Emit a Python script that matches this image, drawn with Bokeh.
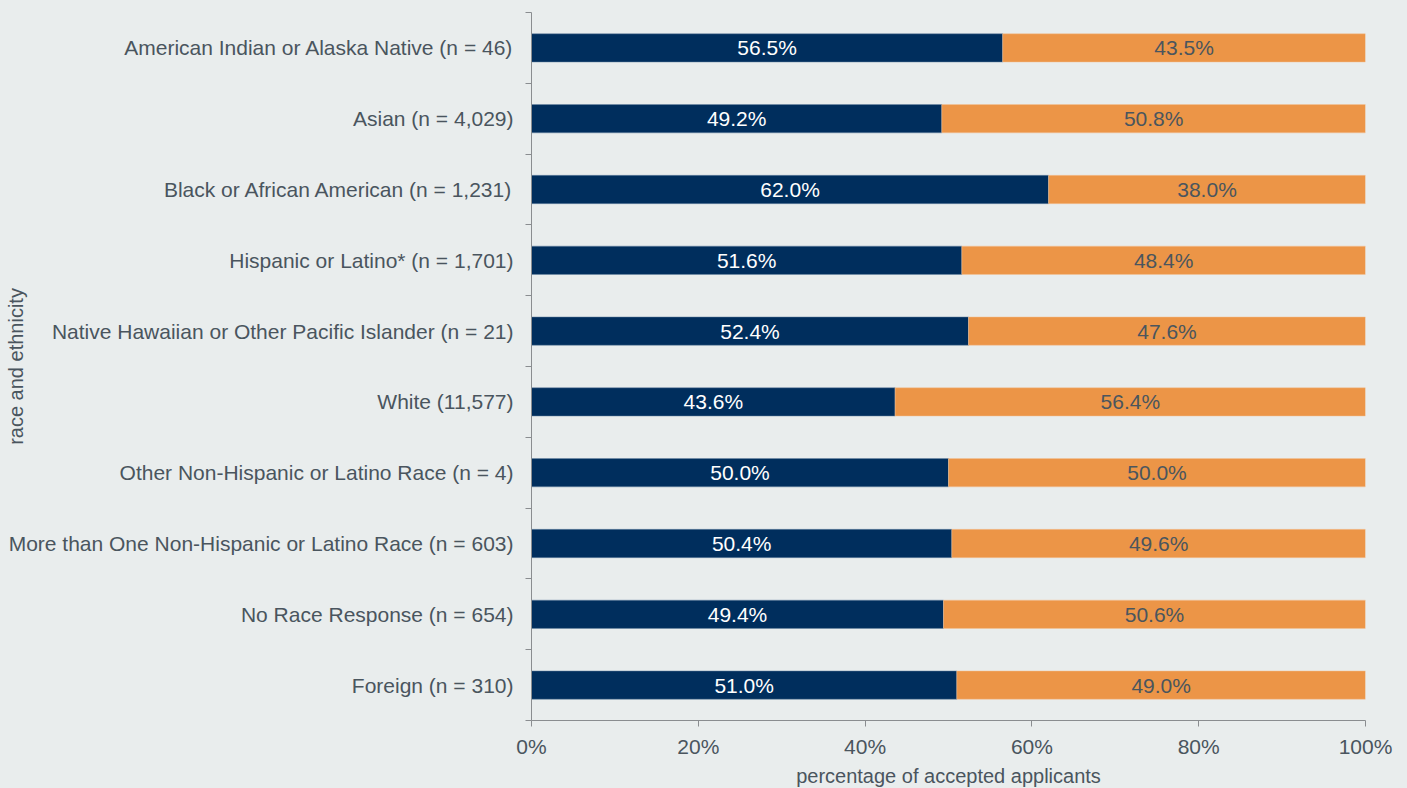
from bokeh.plotting import figure
from bokeh.models import Range1d, FixedTicker, ColumnDataSource, LabelSet
from bokeh.embed import file_html
from bokeh.resources import INLINE
from bokeh.core.properties import value

categories = [
    "American Indian or Alaska Native (n = 46)",
    "Asian (n = 4,029)",
    "Black or African American (n = 1,231)",
    "Hispanic or Latino* (n = 1,701)",
    "Native Hawaiian or Other Pacific Islander (n = 21)",
    "White (11,577)",
    "Other Non-Hispanic or Latino Race (n = 4)",
    "More than One Non-Hispanic or Latino Race (n = 603)",
    "No Race Response (n = 654)",
    "Foreign (n = 310)",
]
series_a = [56.5, 49.2, 62.0, 51.6, 52.4, 43.6, 50.0, 50.4, 49.4, 51.0]
series_b = [43.5, 50.8, 38.0, 48.4, 47.6, 56.4, 50.0, 49.6, 50.6, 49.0]
x_ticks = [0, 20, 40, 60, 80, 100]
x_tick_labels = ["0%", "20%", "40%", "60%", "80%", "100%"]

BG = "#e9eded"
NAVY = "#002e5d"
ORANGE = "#ec9547"
TXT = "#4a555e"
AX = "#8a8d90"
FONT = "Liberation Sans"
FS = "21px"

n = len(categories)
ys = [n - i - 0.5 for i in range(n)]
b_end = [a + b for a, b in zip(series_a, series_b)]

src = ColumnDataSource(dict(
    y=ys, a_end=series_a, b_end=b_end,
    a_mid=[v / 2 for v in series_a],
    b_mid=[a + b / 2 for a, b in zip(series_a, series_b)],
    a_lab=[f"{v:.1f}%" for v in series_a],
    b_lab=[f"{v:.1f}%" for v in series_b],
    zero=[0] * n,
))

p = figure(width=1407, height=788, output_backend="svg", toolbar_location=None,
           x_range=Range1d(0, 100), y_range=Range1d(0, n),
           min_border_left=531, min_border_right=42, min_border_top=12, min_border_bottom=68,
           background_fill_color=BG, border_fill_color=BG, outline_line_color=None)
p.frame_width = 834
p.frame_height = 708

p.hbar(y="y", left="zero", right="a_end", height=0.4, source=src,
       fill_color=NAVY, line_color="#6f8aa6", line_width=0.5)
p.hbar(y="y", left="a_end", right="b_end", height=0.4, source=src,
       fill_color=ORANGE, line_color="#f3c59a", line_width=0.5)

p.add_layout(LabelSet(x="a_mid", y="y", text="a_lab", source=src, text_align="center",
                      text_baseline="middle", text_color="white", text_font_size=FS,
                      text_font=value(FONT)))
p.add_layout(LabelSet(x="b_mid", y="y", text="b_lab", source=src, text_align="center",
                      text_baseline="middle", text_color=TXT, text_font_size=FS,
                      text_font=value(FONT)))

p.grid.visible = False

# y axis: labels at bar centres, ticks at category boundaries
yax = p.yaxis[0]
yax.ticker = FixedTicker(ticks=ys, minor_ticks=list(range(n + 1)))
yax.major_label_overrides = {y: c for y, c in zip(ys, categories)}
yax.major_tick_out = 0
yax.major_tick_in = 0
yax.minor_tick_out = 6
yax.minor_tick_in = 0
yax.minor_tick_line_color = AX
yax.axis_line_color = AX
yax.major_label_text_font = FONT
yax.major_label_text_font_size = FS
yax.major_label_text_color = TXT
yax.major_label_standoff = 12
yax.axis_label = "race and ethnicity"
yax.axis_label_text_font = FONT
yax.axis_label_text_font_size = "20px"
yax.axis_label_text_font_style = "normal"
yax.axis_label_text_color = TXT
yax.axis_label_standoff = -21

xax = p.xaxis[0]
xax.ticker = FixedTicker(ticks=x_ticks)
xax.major_label_overrides = {t: l for t, l in zip(x_ticks, x_tick_labels)}
xax.major_tick_out = 6
xax.major_tick_in = 0
xax.minor_tick_out = 0
xax.minor_tick_in = 0
xax.major_tick_line_color = AX
xax.axis_line_color = AX
xax.major_label_text_font = FONT
xax.major_label_text_font_size = FS
xax.major_label_text_color = TXT
xax.major_label_standoff = 8
xax.axis_label = "percentage of accepted applicants"
xax.axis_label_text_font = FONT
xax.axis_label_text_font_size = "20px"
xax.axis_label_text_font_style = "normal"
xax.axis_label_text_color = TXT
xax.axis_label_standoff = 4

html = file_html(p, INLINE)
html = html.replace("<body>", f'<body style="background:{BG};">')
open("out.html", "w").write(html)
